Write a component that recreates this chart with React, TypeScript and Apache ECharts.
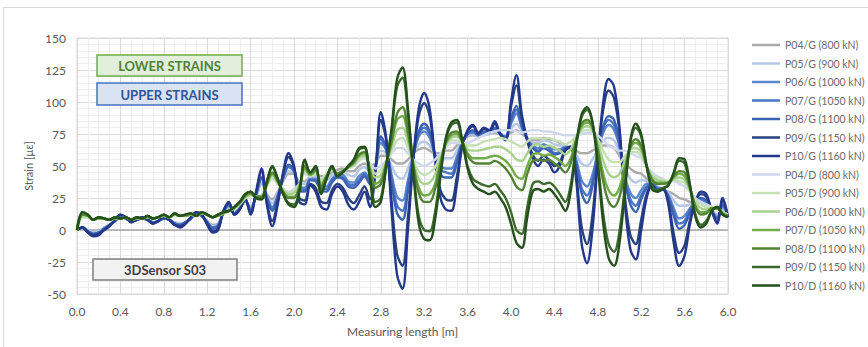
import React, { useEffect, useRef } from "react";
import * as echarts from "echarts";

// Measuring positions along the sensor [m] (sampling grid, 0.05 m step)
const positions: number[] = Array.from({ length: 121 }, (_, i) => Math.round(i * 5) / 100);

const xTicks = [0, 0.4, 0.8, 1.2, 1.6, 2.0, 2.4, 2.8, 3.2, 3.6, 4.0, 4.4, 4.8, 5.2, 5.6, 6.0];
const yTicks = [-50, -25, 0, 25, 50, 75, 100, 125, 150];

// Upper strains (G)
const P04_G = [0,2,0,-2,-1,2,4,7,10,9, 7,8,9,8,6,7,9,8,6,5, 6,9,12,11,7,4,5,13,18,14, 17,22,18,26,36,28,24,30,38,44, 44,38,38,42,44,42,42,45,47,48, 46,46,50,52,50,52,58,58,55,52, 52,55,60,63,64,62,60,60,62,62, 66,70,73,74,73,74,75,76,75,74, 76,78,75,72,70,70,72,71,70,68, 66,64,62,60,60,62,64,66,66,64, 58,52,48,45,44,40,36,34,32,30, 28,25,24,22,22,20,18,15,12,15, 12];
const P05_G = [0,2,0,-2,-1,2,4,7,10,9, 7,8,9,8,6,7,9,8,6,5, 6,9,12,11,7,3,4,13,18,14, 17,22,17,26,37,27,21,29,39,46, 45,36,36,41,42,39,39,43,45,46, 43,42,47,49,46,51,62,60,50,42, 40,48,59,67,69,66,59,56,56,56, 62,69,74,75,73,75,75,77,75,74, 79,83,77,72,68,68,70,69,67,66, 66,64,59,52,50,55,63,70,72,70, 61,48,40,37,39,38,36,34,32,29, 23,19,19,20,22,21,19,15,11,16, 12];
const P06_G = [0,2,-1,-3,-2,1,4,7,11,9, 7,8,9,8,6,7,9,8,5,4, 6,9,13,11,6,2,4,14,19,13, 17,23,16,27,40,26,18,27,40,49, 46,33,33,40,40,35,34,40,43,43, 38,37,42,45,40,50,68,62,43,26, 23,39,59,73,77,72,59,50,48,48, 57,69,75,76,74,76,76,79,75,73, 83,91,80,71,66,64,67,65,63,63, 65,64,55,39,34,43,61,76,82,78, 65,42,29,25,31,36,36,33,32,27, 17,9,11,17,22,23,21,15,10,18, 11];
const P07_G = [0,2,-1,-3,-2,1,4,7,11,9, 7,8,9,8,6,7,9,8,5,4, 6,9,13,11,6,2,3,14,20,13, 17,23,16,28,41,25,16,26,41,50, 46,32,31,39,39,33,32,39,42,41, 36,35,39,44,38,49,71,63,40,19, 15,34,58,75,80,75,58,47,45,44, 54,68,75,77,74,76,76,79,75,72, 85,94,81,71,65,62,66,64,60,61, 64,64,54,33,27,38,61,79,86,82, 66,40,24,19,27,34,36,32,32,26, 14,5,7,16,22,24,22,15,9,19, 11];
const P08_G = [0,2,-1,-3,-2,1,4,7,11,9, 7,8,9,8,6,7,9,8,5,4, 6,9,13,11,6,1,3,14,20,13, 17,23,15,28,41,24,15,26,41,51, 47,31,30,39,38,31,30,37,41,40, 34,33,37,42,36,49,73,64,37,13, 8,30,58,77,83,77,58,44,41,41, 52,68,75,78,74,77,76,80,75,72, 87,97,82,71,64,61,64,62,59,60, 64,64,52,29,21,34,60,81,89,86, 68,38,20,14,24,33,36,32,32,26, 11,1,4,14,22,25,23,15,9,20, 11];
const P09_G = [0,2,-2,-4,-3,0,3,8,12,10, 6,8,10,8,5,7,10,8,4,3, 5,10,14,12,5,-1,1,15,21,12, 16,24,13,29,46,21,7,22,44,57, 49,25,23,36,33,22,21,31,36,33, 25,21,27,34,24,46,86,70,22,-19, -28,10,56,89,99,89,56,31,24,23, 41,66,77,81,75,79,77,83,75,71, 96,113,87,70,59,54,58,55,50,53, 63,65,44,3,-11,11,57,94,109,103, 76,26,-4,-11,8,28,35,31,32,22, -3,-18,-12,8,22,28,26,15,6,23, 10];
const P10_G = [0,2,-2,-5,-4,0,3,8,12,10, 6,8,10,8,5,7,10,8,4,2, 5,10,14,12,4,-2,0,15,22,12, 16,25,12,30,48,20,3,20,45,60, 50,22,20,35,30,18,16,28,34,30, 20,16,22,30,18,45,92,72,15,-35, -46,0,55,95,107,95,55,25,16,15, 35,65,78,82,76,80,78,85,75,70, 100,121,90,70,56,50,55,52,45,50, 62,65,40,-10,-26,0,55,100,118,112, 80,20,-15,-23,0,25,35,30,32,20, -10,-28,-20,5,22,30,28,15,5,25, 10];

// Lower strains (D)
const P04_D = [0,10,10,8,9,9,8,9,9,10, 8,9,9,10,9,10,11,10,12,11, 11,12,11,13,12,10,11,13,15,17, 20,25,27,26,27,34,40,36,32,30, 32,36,44,42,44,40,44,47,45,46, 48,50,54,56,52,48,50,54,60,64, 64,60,55,52,50,52,55,60,65,68, 68,68,68,70,72,74,76,77,78,78, 78,77,76,77,78,78,77,77,76,75, 74,74,74,75,76,76,74,70,66,64, 62,62,60,58,56,50,45,42,40,38, 38,36,34,30,25,22,20,18,16,14, 12];
const P05_D = [0,10,10,8,9,9,8,9,9,10, 8,9,9,10,9,10,11,10,12,11, 11,12,11,13,12,10,11,13,15,17, 20,25,27,26,27,34,41,36,32,29, 30,35,45,42,45,39,44,47,45,46, 48,51,55,57,51,44,47,54,62,70, 72,64,54,46,43,45,49,58,66,70, 70,68,66,66,67,69,70,71,72,71, 69,67,65,69,72,72,71,72,70,69, 67,69,73,77,78,77,71,62,55,53, 53,58,61,61,58,50,43,41,39,38, 39,38,37,31,23,20,18,18,16,14, 12];
const P06_D = [0,11,11,8,9,9,8,9,9,10, 8,9,9,10,9,10,11,10,12,11, 11,12,11,13,12,10,11,13,15,17, 21,26,28,26,26,35,43,37,31,28, 29,35,47,43,46,37,43,48,44,46, 49,51,57,58,49,41,43,53,65,78, 80,69,53,40,36,37,43,56,67,72, 73,69,63,62,62,63,64,65,65,63, 60,55,54,60,66,67,65,66,64,62, 59,63,72,79,81,78,68,54,44,41, 44,54,63,64,61,50,42,39,38,37, 40,41,39,31,21,17,16,17,17,14, 12];
const P07_D = [0,12,11,8,9,9,8,9,9,10, 8,9,9,10,9,10,11,10,12,11, 11,12,11,13,12,10,11,13,15,17, 21,26,28,26,26,36,44,38,30,26, 26,34,48,43,46,35,42,48,44,46, 49,52,58,60,47,36,39,52,68,86, 89,74,51,33,27,28,36,53,68,74, 75,69,60,56,56,56,57,58,57,54, 49,42,40,50,59,60,58,59,57,54, 50,56,70,81,84,80,64,44,31,27, 33,49,64,68,64,50,40,37,37,37, 41,44,42,32,19,14,14,17,17,13, 11];
const P08_D = [0,12,11,8,10,9,8,10,9,10, 8,10,9,11,9,10,12,10,13,11, 12,13,11,14,12,10,12,14,15,18, 21,27,29,26,26,36,45,38,30,25, 25,33,50,44,47,34,42,49,44,46, 49,53,59,61,46,33,36,52,70,91, 96,78,50,29,22,22,32,51,69,76, 77,69,58,53,52,52,52,54,52,48, 42,34,31,44,54,55,54,55,52,49, 45,52,70,83,86,81,62,38,22,18, 26,46,65,71,66,50,39,36,36,37, 42,46,45,33,18,12,13,17,17,13, 11];
const P09_D = [0,14,12,8,10,9,8,10,9,10, 8,10,9,11,9,10,12,10,13,11, 12,13,11,14,12,10,12,14,15,18, 22,28,30,25,24,38,49,40,28,21, 20,31,54,45,49,29,40,50,42,45, 50,54,63,64,41,22,25,50,78,112, 119,91,46,11,0,-1,14,44,71,82, 84,70,50,40,37,35,34,36,31,25, 14,0,-3,18,36,38,36,37,34,28, 22,35,66,88,94,84,53,13,-11,-17, -1,34,69,80,73,50,34,31,33,35, 44,54,52,34,12,4,7,15,18,12, 10];
const P10_D = [0,14,12,8,10,9,8,10,9,10, 8,10,9,11,9,10,12,10,13,11, 12,13,11,14,12,10,12,14,15,18, 22,28,30,25,24,38,50,40,28,20, 18,30,55,45,50,28,40,50,42,45, 50,55,64,65,40,18,22,50,80,118, 127,95,45,5,-7,-8,8,42,72,84, 86,70,48,36,32,30,28,30,25,18, 5,-10,-14,10,30,32,30,32,28,22, 15,30,65,90,96,85,50,5,-22,-28, -10,30,70,83,75,50,32,30,32,35, 45,56,55,35,10,2,5,15,18,12, 10];

const seriesNames = [
  "P04/G (800 kN)", "P05/G (900 kN)", "P06/G (1000 kN)", "P07/G (1050 kN)", "P08/G (1100 kN)", "P09/G (1150 kN)", "P10/G (1160 kN)",
  "P04/D (800 kN)", "P05/D (900 kN)", "P06/D (1000 kN)", "P07/D (1050 kN)", "P08/D (1100 kN)", "P09/D (1150 kN)", "P10/D (1160 kN)",
];
const seriesValues = [P04_G, P05_G, P06_G, P07_G, P08_G, P09_G, P10_G, P04_D, P05_D, P06_D, P07_D, P08_D, P09_D, P10_D];
const seriesColors = [
  "#ababab", "#b4c7e7", "#5a85d0", "#4a74c4", "#3c63b2", "#27407e", "#23378c",
  "#cfd7ee", "#c5e0b4", "#a9d18e", "#70ad47", "#548235", "#3b6a2c", "#24501c",
];

const FONT = "Lato, 'Open Sans', 'Noto Sans', sans-serif";

export default function App() {
  const ref = useRef<HTMLDivElement>(null);
  useEffect(() => {
    if (!ref.current) return;
    const chart = echarts.init(ref.current, undefined, { renderer: "svg" });
    const series: any[] = seriesNames.map((name, s) => ({
      name,
      type: "line",
      showSymbol: false,
      smooth: 0.35,
      color: seriesColors[s],
      lineStyle: { width: 2.4, color: seriesColors[s] },
      data: positions.map((x, i) => [x, seriesValues[s][i]]),
      z: 3,
    }));
    series[0].markLine = {
      silent: true,
      symbol: "none",
      label: { show: false },
      lineStyle: { color: "#a6a6a6", width: 1.5, type: "solid" },
      data: [{ yAxis: 0 }],
      z: 2,
    };
    const boxes = [
      { x: 97, y: 55, w: 145, h: 21, fill: "#e2efda", stroke: "#70ad47", text: "LOWER STRAINS", color: "#548235" },
      { x: 97, y: 83, w: 145, h: 22, fill: "#dae3f3", stroke: "#4472c4", text: "UPPER STRAINS", color: "#2f5597" },
      { x: 93, y: 259, w: 144, h: 21, fill: "#f2f2f2", stroke: "#7f7f7f", text: "3DSensor S03", color: "#404040" },
    ];
    const graphic: any[] = [
      { type: "rect", shape: { x: 3.5, y: 7.5, width: 900, height: 400 }, style: { fill: "none", stroke: "#d9d9d9", lineWidth: 1 }, z: 0 },
    ];
    boxes.forEach((b) => {
      graphic.push({ type: "rect", shape: { x: b.x, y: b.y, width: b.w, height: b.h }, style: { fill: b.fill, stroke: b.stroke, lineWidth: 1.5 }, z: 10 });
      graphic.push({ type: "text", x: b.x + b.w / 2, y: b.y + b.h / 2 + 0.5, style: { text: b.text, fill: b.color, font: `bold 13px ${FONT}`, textAlign: "center", textVerticalAlign: "middle" }, z: 11 });
    });
    chart.setOption({
      animation: false,
      backgroundColor: "#ffffff",
      textStyle: { fontFamily: FONT },
      grid: { left: 77, right: 140, top: 38, bottom: 53, show: true, borderColor: "#d9d9d9", borderWidth: 1, backgroundColor: "transparent" },
      legend: {
        orient: "vertical",
        left: 752,
        top: 39,
        padding: 0,
        icon: "rect",
        itemWidth: 28,
        itemHeight: 2.5,
        itemGap: 6.5,
        data: seriesNames,
        textStyle: { fontSize: 10.5, color: "#6b6b6b", lineHeight: 12, fontFamily: FONT, padding: [0, 0, 0, 0] },
      },
      xAxis: {
        type: "value",
        min: xTicks[0],
        max: xTicks[xTicks.length - 1],
        interval: 0.4,
        name: "Measuring length [m]",
        nameLocation: "middle",
        nameGap: 31,
        nameTextStyle: { color: "#595959", fontSize: 12, fontFamily: FONT },
        axisLine: { show: false },
        axisTick: { show: false },
        axisLabel: { color: "#595959", fontSize: 12, margin: 11, fontFamily: FONT, formatter: (v: number) => v.toFixed(1) },
        splitLine: { show: true, lineStyle: { color: "#d9d9d9", width: 1 } },
        minorTick: { show: false, splitNumber: 4 },
        minorSplitLine: { show: true, lineStyle: { color: "#eeeeee", width: 1 } },
      },
      yAxis: {
        type: "value",
        min: yTicks[0],
        max: yTicks[yTicks.length - 1],
        interval: 25,
        name: "Strain [\u00b5\u03b5]",
        nameLocation: "middle",
        nameGap: 40,
        nameRotate: 90,
        nameTextStyle: { color: "#595959", fontSize: 11, fontFamily: FONT },
        axisLine: { show: false },
        axisTick: { show: false },
        axisLabel: { color: "#595959", fontSize: 12, margin: 11, fontFamily: FONT },
        splitLine: { show: true, lineStyle: { color: "#d9d9d9", width: 1 } },
        minorTick: { show: false, splitNumber: 5 },
        minorSplitLine: { show: true, lineStyle: { color: "#eeeeee", width: 1 } },
      },
      graphic,
      series,
    });
    return () => chart.dispose();
  }, []);
  return (
    <div style={{ position: "fixed", left: 0, top: 0, width: 868, height: 347, background: "#fff" }}>
      <div ref={ref} style={{ width: 868, height: 347 }} />
    </div>
  );
}
